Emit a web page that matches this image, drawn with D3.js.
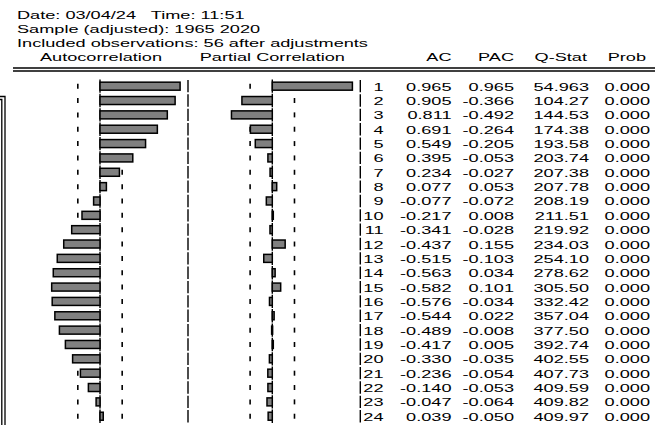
<!DOCTYPE html>
<html><head><meta charset="utf-8">
<script src="https://cdn.jsdelivr.net/npm/d3@7"></script>
<style>
body{margin:0;background:#fff}
text{font-family:"Liberation Sans",Arial,sans-serif;font-size:11px;fill:#000;white-space:pre}
</style>
</head><body>
<svg id="c" width="662" height="425"></svg>
<script>
// ---------------- data ----------------
const headerLines = ["Date: 03/04/24   Time: 11:51", "Sample (adjusted): 1965 2020", "Included observations: 56 after adjustments"];
const panelTitles = ["Autocorrelation", "Partial Correlation"];
const columnTitles = ["AC", "PAC", "Q-Stat", "Prob"];
const nObs = 56;
const lags = d3.range(1, 25);
const ac = [0.965, 0.905, 0.811, 0.691, 0.549, 0.395, 0.234, 0.077, -0.077, -0.217, -0.341, -0.437,
            -0.515, -0.563, -0.582, -0.576, -0.544, -0.489, -0.417, -0.330, -0.236, -0.140, -0.047, 0.039];
const pac = [0.965, -0.366, -0.492, -0.264, -0.205, -0.053, -0.027, 0.053, -0.072, 0.008, -0.028, 0.155,
             -0.103, 0.034, 0.101, -0.034, 0.022, -0.008, 0.005, -0.035, -0.054, -0.053, -0.064, -0.050];
const qstat = [54.963, 104.27, 144.53, 174.38, 193.58, 203.74, 207.38, 207.78, 208.19, 211.51, 219.92, 234.03,
               254.10, 278.62, 305.50, 332.42, 357.04, 377.50, 392.74, 402.55, 407.73, 409.59, 409.82, 409.97];
const prob = [0, 0, 0, 0, 0, 0, 0, 0, 0, 0, 0, 0, 0, 0, 0, 0, 0, 0, 0, 0, 0, 0, 0, 0];

// ---------------- layout ----------------
const SX = 1.65; // horizontal stretch of the text
const svg = d3.select("#c");
const band = 2 / Math.sqrt(nObs);

const y = d3.scaleBand().domain(lags).range([79, 79 + 24 * 14.35]).padding(0);
const xA = d3.scaleLinear().domain([-1, 1]).range([17, 183]);
const xP = d3.scaleLinear().domain([-1, 1]).range([189.3, 355.3]);

function txt(x, yy, s, anchor) {
  const g = svg.append("g").attr("transform", `translate(${x},${yy}) scale(${SX},1)`);
  g.append("text").attr("text-anchor", anchor || "start").attr("xml:space", "preserve").text(s);
}

// header
headerLines.forEach((s, i) => txt(17, 18.5 + i * 14, s));
txt(xA(0) + 1, 60.5, panelTitles[0], "middle");
txt(xP(0), 60.5, panelTitles[1], "middle");
const colRight = [451.5, 514, 589, 650];
columnTitles.forEach((s, i) => txt(colRight[i] - (i === 2 ? 2 : i === 3 ? 4 : 0), 60.5, s, "end"));

// double rule
[68, 71].forEach(v => svg.append("line").attr("x1", 13).attr("x2", 655).attr("y1", v).attr("y2", v)
  .attr("stroke", "#000").attr("stroke-width", 1.3));

// left border fragment
svg.append("path").attr("d", "M0,96.5H5V425").attr("fill", "none").attr("stroke", "#000").attr("stroke-width", 1.3);
svg.append("path").attr("d", "M0,99.5H1.8V425").attr("fill", "none").attr("stroke", "#000").attr("stroke-width", 1.3);

function panel(x, vals) {
  const g = svg.append("g");
  const bh = y.bandwidth();
  [-band, band].forEach(b => {
    g.selectAll(null).data(lags).enter().append("line")
      .attr("x1", x(b)).attr("x2", x(b))
      .attr("y1", d => y(d) + bh / 2 - 2.5).attr("y2", d => y(d) + bh / 2 + 2.5)
      .attr("stroke", "#000").attr("stroke-width", 1.6);
  });
  g.selectAll(null).data(lags).enter().append("line")
    .attr("x1", x(1) + 5).attr("x2", x(1) + 5)
    .attr("y1", d => y(d) + 1).attr("y2", d => y(d) + bh - 1)
    .attr("stroke", "#000").attr("stroke-width", 1.4);
  g.selectAll(null).data(lags).enter().append("line")
    .attr("x1", x(0)).attr("x2", x(0))
    .attr("y1", d => y(d) + 0.5).attr("y2", d => y(d) + bh - 0.5)
    .attr("stroke", "#000").attr("stroke-width", 1.4);
  g.selectAll(null).data(lags).enter().append("rect")
    .attr("x", d => Math.min(x(0), x(vals[d - 1])))
    .attr("width", d => Math.max(1, Math.abs(x(vals[d - 1]) - x(0))))
    .attr("y", d => y(d) + bh / 2 - 4)
    .attr("height", 8)
    .attr("fill", "#808080").attr("stroke", "#000").attr("stroke-width", 1.5);
}
panel(xA, ac);
panel(xP, pac);

// table
const loc = d3.formatLocale({decimal: ".", thousands: ",", grouping: [3], currency: ["", ""], minus: "-"});
const f3 = loc.format(".3f"), f5 = loc.format(".5r");
lags.forEach((l, i) => {
  const yy = y(l) + y.bandwidth() / 2 + 4.5;
  txt(383.5, yy, String(l), "end");
  txt(colRight[0], yy, f3(ac[i]), "end");
  txt(colRight[1], yy, f3(pac[i]), "end");
  txt(colRight[2], yy, f5(qstat[i]), "end");
  txt(colRight[3], yy, f3(prob[i]), "end");
});
</script>
</body></html>
